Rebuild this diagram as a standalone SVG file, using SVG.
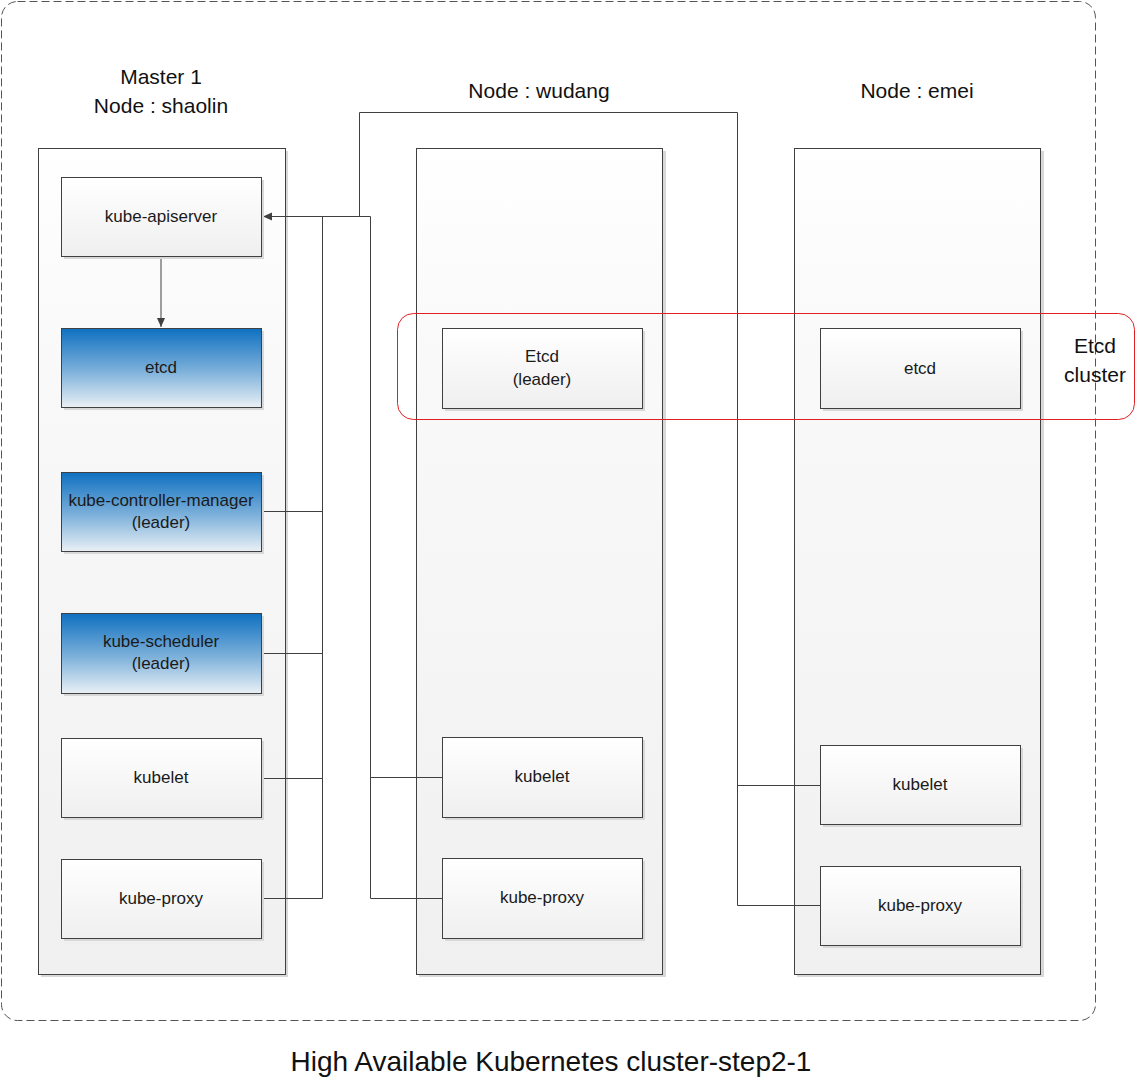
<svg xmlns="http://www.w3.org/2000/svg" width="1137" height="1083" viewBox="0 0 1137 1083">
<defs>
<linearGradient id="gCol" x1="0" y1="0" x2="0" y2="1">
<stop offset="0" stop-color="#ffffff"/><stop offset="0.2" stop-color="#fafafa"/><stop offset="1" stop-color="#f0f0f0"/>
</linearGradient>
<linearGradient id="gBox" x1="0" y1="0" x2="0" y2="1">
<stop offset="0" stop-color="#ffffff"/><stop offset="1" stop-color="#efefef"/>
</linearGradient>
<linearGradient id="gBlue" x1="0" y1="0" x2="0" y2="1">
<stop offset="0" stop-color="#0f70c0"/><stop offset="0.55" stop-color="#7fb2db"/><stop offset="1" stop-color="#eaf0f5"/>
</linearGradient>
<marker id="arr" markerWidth="10" markerHeight="10" refX="9" refY="5" orient="auto" markerUnits="userSpaceOnUse">
<path d="M0,1 L9,5 L0,9 Z" fill="#404040"/>
</marker>
</defs>
<style>
.col{fill:url(#gCol);stroke:#404040;stroke-width:1}
.shadow{fill:#d8d8d8}
.box{fill:url(#gBox);stroke:#404040;stroke-width:1}
.blue{fill:url(#gBlue);stroke:#404040;stroke-width:1}
.t{font-family:"Liberation Sans",Arial,sans-serif;font-size:17px;fill:#1a1a1a;text-anchor:middle}
.h{font-family:"Liberation Sans",Arial,sans-serif;font-size:21px;fill:#111;text-anchor:middle}
.ln{fill:none;stroke:#404040;stroke-width:1}
</style>
<rect width="1137" height="1083" fill="#ffffff"/>
<rect id="outer" x="1.5" y="1.5" width="1094" height="1019" rx="16" fill="none" stroke="#555" stroke-width="1" stroke-dasharray="8,4"/>

<text class="h" x="161" y="84">Master 1</text>
<text class="h" x="161" y="113">Node : shaolin</text>
<text class="h" x="539" y="98">Node : wudang</text>
<text class="h" x="917" y="98">Node : emei</text>

<g id="col-shaolin"><rect x="41" y="151" width="247" height="826" class="shadow"/><rect x="38.5" y="148.5" width="247" height="826" class="col"/></g>
<g id="col-wudang"><rect x="419" y="151" width="247" height="826" class="shadow"/><rect x="416.5" y="148.5" width="246" height="826" class="col"/></g>
<g id="col-emei"><rect x="797" y="151" width="247" height="826" class="shadow"/><rect x="794.5" y="148.5" width="246" height="826" class="col"/></g>

<g id="connectors">
<path class="ln" d="M161,256.5 V327" marker-end="url(#arr)"/>
<path class="ln" d="M370.5,216.5 H263" marker-end="url(#arr)"/>
<path class="ln" d="M322.5,216.5 V898.5"/>
<path class="ln" d="M262,511.5 H322.5 M262,653.5 H322.5 M262,778.5 H322.5 M262,898.5 H322.5"/>
<path class="ln" d="M370.5,216.5 V898.5 M370.5,777.5 H442 M370.5,898.5 H442"/>
<path class="ln" d="M359.5,216.5 V112.5 H737.5 V905.5 M737.5,785.5 H820 M737.5,905.5 H820"/>
</g>

<g id="apiserver"><rect x="64" y="180" width="200" height="79" class="shadow"/><rect x="61.5" y="177.5" width="200" height="79" class="box"/><text class="t" x="161" y="222">kube-apiserver</text></g>
<g id="etcd-shaolin"><rect x="64" y="331" width="200" height="79" class="shadow"/><rect x="61.5" y="328.5" width="200" height="79" class="blue"/><text class="t" x="161" y="373">etcd</text></g>
<g id="kcm"><rect x="64" y="475" width="200" height="79" class="shadow"/><rect x="61.5" y="472.5" width="200" height="79" class="blue"/><text class="t" x="161" y="506">kube-controller-manager</text><text class="t" x="161" y="528">(leader)</text></g>
<g id="scheduler"><rect x="64" y="616" width="200" height="80" class="shadow"/><rect x="61.5" y="613.5" width="200" height="80" class="blue"/><text class="t" x="161" y="647">kube-scheduler</text><text class="t" x="161" y="669">(leader)</text></g>
<g id="kubelet-shaolin"><rect x="64" y="741" width="200" height="79" class="shadow"/><rect x="61.5" y="738.5" width="200" height="79" class="box"/><text class="t" x="161" y="783">kubelet</text></g>
<g id="proxy-shaolin"><rect x="64" y="862" width="200" height="79" class="shadow"/><rect x="61.5" y="859.5" width="200" height="79" class="box"/><text class="t" x="161" y="904">kube-proxy</text></g>

<g id="etcd-wudang"><rect x="445" y="331" width="200" height="80" class="shadow"/><rect x="442.5" y="328.5" width="200" height="80" class="box"/><text class="t" x="542" y="362">Etcd</text><text class="t" x="542" y="385">(leader)</text></g>
<g id="kubelet-wudang"><rect x="445" y="740" width="200" height="80" class="shadow"/><rect x="442.5" y="737.5" width="200" height="80" class="box"/><text class="t" x="542" y="782">kubelet</text></g>
<g id="proxy-wudang"><rect x="445" y="861" width="200" height="80" class="shadow"/><rect x="442.5" y="858.5" width="200" height="80" class="box"/><text class="t" x="542" y="903">kube-proxy</text></g>

<g id="etcd-emei"><rect x="823" y="331" width="200" height="80" class="shadow"/><rect x="820.5" y="328.5" width="200" height="80" class="box"/><text class="t" x="920" y="374">etcd</text></g>
<g id="kubelet-emei"><rect x="823" y="748" width="200" height="79" class="shadow"/><rect x="820.5" y="745.5" width="200" height="79" class="box"/><text class="t" x="920" y="790">kubelet</text></g>
<g id="proxy-emei"><rect x="823" y="869" width="200" height="79" class="shadow"/><rect x="820.5" y="866.5" width="200" height="79" class="box"/><text class="t" x="920" y="911">kube-proxy</text></g>

<g id="etcd-cluster">
<rect x="397.5" y="313.5" width="737" height="106" rx="16" fill="none" stroke="#e02020" stroke-width="1"/>
<text class="h" x="1095" y="353">Etcd</text>
<text class="h" x="1095" y="382">cluster</text>
</g>

<text x="551" y="1071" font-family="'Liberation Sans',Arial,sans-serif" font-size="28" fill="#111" text-anchor="middle">High Available Kubernetes cluster-step2-1</text>
</svg>
